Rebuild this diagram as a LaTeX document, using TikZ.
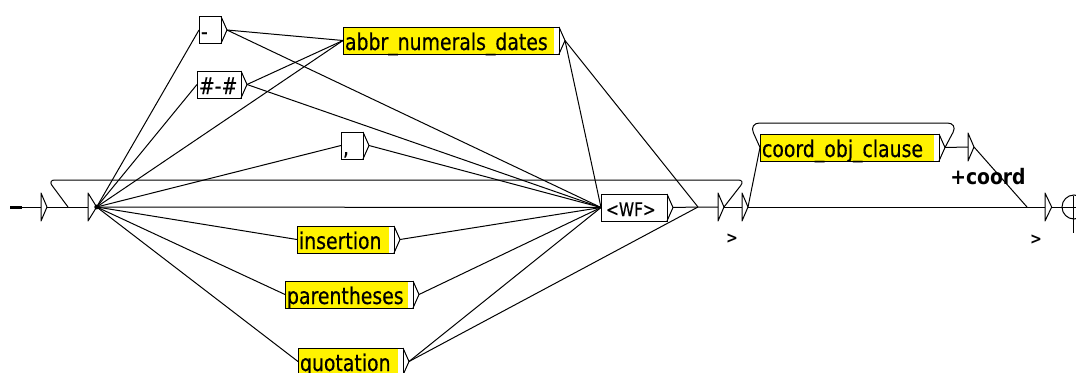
\documentclass[tikz,border=0pt]{standalone}
\usepackage{fontspec}
\newfontfamily\boxfont[FakeStretch=0.82,FakeBold=0.4]{DejaVu Sans}
\newfontfamily\outfont[FakeStretch=0.88]{DejaVu Sans}
\begin{document}
\begin{tikzpicture}[x=0.75pt,y=-0.75pt,
  wire/.style={line width=0.75pt, line join=round},
  lbox/.style={draw, line width=0.75pt, anchor=west, fill=white,
    inner xsep=1.5pt, inner ysep=0pt, outer sep=0pt,
    text height=17.25pt, text depth=3pt, align=left,
    font=\boxfont\fontsize{17.25pt}{19pt}\selectfont},
  ybox/.style={lbox, fill=yellow,
    path picture={\fill[white] ([xshift=-3.75pt]path picture bounding box.north east)
      rectangle (path picture bounding box.south east);}},
  lbl/.style={font=\outfont\bfseries\fontsize{#1}{#1}\selectfont, inner sep=0pt},
]
\useasboundingbox (0,0) rectangle (1076,372);

% output tip on the right side of a box
\newcommand\boxtip[1]{%
  \coordinate (#1-o) at ([xshift=4.5pt]#1.east);
  \draw[wire] (#1.north east) -- (#1-o) -- (#1.south east);}
% empty transition box drawn as a small triangle
\newcommand\epsbox[4]{% name, x, y, tip offset
  \coordinate (#1) at (#2,#3);
  \coordinate (#1-o) at ([xshift=#4]#1);
  \draw[wire] ([yshift=10.5pt]#1) -- ([yshift=-10.5pt]#1) -- (#1-o) -- cycle;}

% labelled boxes
\node[lbox, text width=13.5pt]  (dash)  at (199,30)    {-};
\node[lbox, text width=30pt]    (hash)  at (197,84.5)  {\#-\#};
\node[ybox, text width=159pt]   (abbr)  at (343,40.5)  {abbr\_numerals\_dates};
\node[lbox, text width=13.5pt]  (comma) at (341,145.5) {,};
\node[lbox, text width=46.5pt, font=\boxfont\fontsize{14pt}{16pt}\selectfont,
      text height=16.5pt, text depth=3.75pt] (wf) at (601,207.5) {\,<WF>};
\node[ybox, text width=69.75pt] (ins)   at (297,239.5) {insertion};
\node[ybox, text width=93pt]    (par)   at (285,294.5) {parentheses};
\node[ybox, text width=75.75pt] (quo)   at (298,361.5) {quotation};
\node[ybox, text width=131.25pt](coord) at (760,147.5) {coord\_obj\_clause};
\foreach \b in {dash,hash,abbr,comma,wf,ins,par,quo,coord} {\boxtip{\b}}

% empty boxes
\epsbox{t1}{41}{207}{4.5pt}
\epsbox{t2}{88}{207}{6.5pt}
\epsbox{t3}{718}{207}{4.5pt}
\epsbox{t4}{742}{207}{4.5pt}
\epsbox{t5}{968}{147}{4.5pt}
\epsbox{t6}{1045}{207}{5pt}

% initial arrow and final state
\coordinate (init) at (10,207);
\coordinate (init-e) at (22,207);
\draw[line width=2.25pt] (init) -- (init-e);
\node[draw, circle, line width=0.75pt, minimum size=18pt, inner sep=0pt] (fin) at (1074,207) {};
\coordinate (fin-e) at (1076,207);
\coordinate (fin-t) at (1073,196);
\coordinate (fin-b) at (1073,233);
\draw[wire] (fin-t) -- (fin-b);

% junction points
\coordinate (j1) at (68,207);
\coordinate (m) at (698,207);
\coordinate (j2) at (1027,207);

% transitions
\draw[wire] (init-e) -- (t1);
\draw[wire] (t1-o) -- (t2);
\foreach \b in {dash,hash,abbr,comma,wf,ins,par,quo} {\draw[wire] (t2-o) -- (\b.west);}
\fill (t2-o) circle (1.8pt);
\draw[wire] (dash-o) -- (abbr.west);
\draw[wire] (dash-o) -- (wf.west);
\draw[wire] (hash-o) -- (abbr.west);
\draw[wire] (hash-o) -- (wf.west);
\draw[wire] (abbr-o) -- (wf.west);
\draw[wire] (abbr-o) -- (m);
\draw[wire] (comma-o) -- (wf.west);
\draw[wire] (ins-o) -- (wf.west);
\draw[wire] (par-o) -- (wf.west);
\draw[wire] (quo-o) -- (wf.west);
\draw[wire] (quo-o) -- (m);
\draw[wire] (wf-o) -- (m) -- (t3);
\draw[wire] (t3-o) -- (t4);
\draw[wire, rounded corners=5pt] (t3-o) -- (745,180) -- (48,180) -- (j1);
\draw[wire] (t4-o) -- (coord.west);
\draw[wire] (t4-o) -- (t6);
\draw[wire, rounded corners=8pt] (coord-o) -- (958,123) -- (749,123) -- (coord.west);
\draw[wire] (coord-o) -- (t5);
\draw[wire] (t5-o) -- (j2);
\draw[wire] (t6-o) -- (fin-e);

% outputs
\node[lbl=16pt] (out1) at (988,177) {+coord};
\node[lbl=12pt] (out2) at (732,239) {>};
\node[lbl=12pt] (out3) at (1036,240) {>};
\end{tikzpicture}
\end{document}
